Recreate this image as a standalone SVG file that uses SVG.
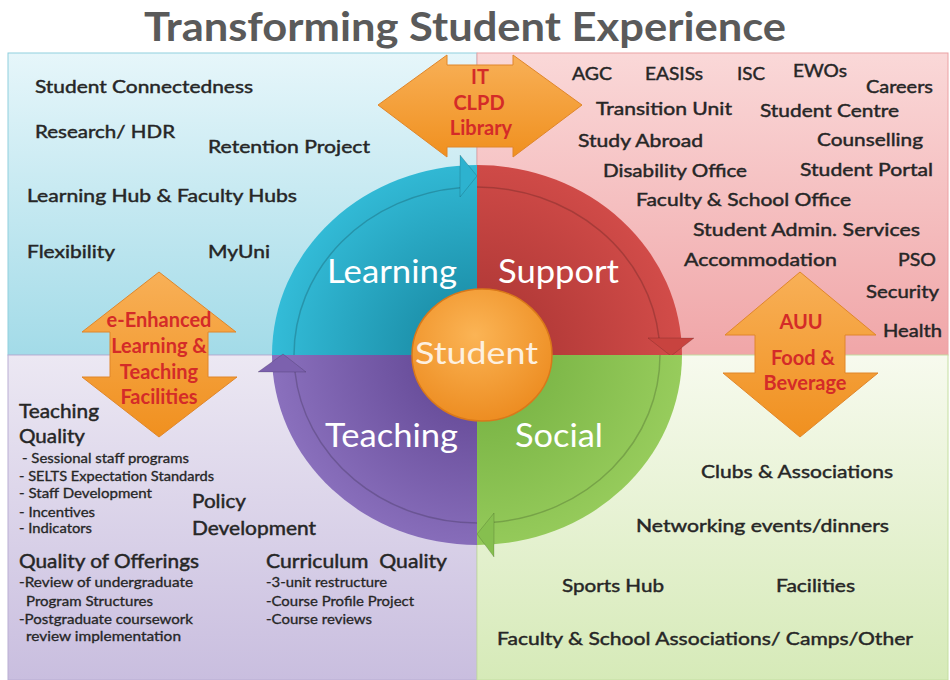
<svg xmlns="http://www.w3.org/2000/svg" width="950" height="680" viewBox="0 0 950 680">
<defs>
<linearGradient id="gBlueBg" x1="0" y1="0" x2="0" y2="1"><stop offset="0" stop-color="#e6f6fa"/><stop offset="1" stop-color="#a3dbe8"/></linearGradient>
<linearGradient id="gPinkBg" x1="0" y1="0" x2="0" y2="1"><stop offset="0" stop-color="#fad8d8"/><stop offset="1" stop-color="#f0a6a8"/></linearGradient>
<linearGradient id="gPurpBg" x1="0" y1="0" x2="0" y2="1"><stop offset="0" stop-color="#ece8f3"/><stop offset="1" stop-color="#c9bedf"/></linearGradient>
<linearGradient id="gGreenBg" x1="0" y1="0" x2="0" y2="1"><stop offset="0" stop-color="#f7faee"/><stop offset="1" stop-color="#d6eab8"/></linearGradient>
<radialGradient id="gBlue" cx="477" cy="355" r="205" gradientUnits="userSpaceOnUse"><stop offset="0.3" stop-color="#1e93ad"/><stop offset="1" stop-color="#33bcd8"/></radialGradient>
<radialGradient id="gRed" cx="477" cy="355" r="205" gradientUnits="userSpaceOnUse"><stop offset="0.3" stop-color="#b33a38"/><stop offset="1" stop-color="#d24c49"/></radialGradient>
<radialGradient id="gGreen" cx="477" cy="355" r="205" gradientUnits="userSpaceOnUse"><stop offset="0.3" stop-color="#7cb647"/><stop offset="1" stop-color="#97cc5c"/></radialGradient>
<radialGradient id="gPurple" cx="477" cy="355" r="205" gradientUnits="userSpaceOnUse"><stop offset="0.3" stop-color="#6a4f9c"/><stop offset="1" stop-color="#8a70bd"/></radialGradient>
<radialGradient id="gOrange" cx="0.45" cy="0.35" r="0.7"><stop offset="0" stop-color="#fbb455"/><stop offset="1" stop-color="#ec8a1e"/></radialGradient>
<linearGradient id="gArrow" x1="0" y1="0" x2="0" y2="1"><stop offset="0" stop-color="#f8b057"/><stop offset="1" stop-color="#f0901f"/></linearGradient>
<style>
text{font-family:Lato,"Liberation Sans",sans-serif}
.t{fill:#262626;stroke:#262626;stroke-width:0.45;font-size:18px}
.s{fill:#262626;stroke:#262626;stroke-width:0.3;font-size:13px}
.h{fill:#262626;stroke:#262626;stroke-width:0.45;font-size:19px}
.w{fill:#ffffff;font-size:32px}
.r{fill:#d42b28;font-size:20px;font-weight:bold;text-anchor:middle}
.arrow{fill:url(#gArrow);stroke:#e0862a;stroke-width:1}
.inner{fill:none;stroke:#000;stroke-opacity:0.18;stroke-width:1.5}
.head{stroke:#000;stroke-opacity:0.15;stroke-width:1}
</style>
</defs>

<g id="backgrounds">
<rect x="8" y="53" width="469" height="302" fill="url(#gBlueBg)" stroke="#8fd0de" stroke-width="1"/>
<rect x="477" y="53" width="471" height="302" fill="url(#gPinkBg)" stroke="#eaa2a4" stroke-width="1"/>
<rect x="8" y="355" width="469" height="325" fill="url(#gPurpBg)" stroke="#b9aed3" stroke-width="1"/>
<rect x="477" y="355" width="471" height="325" fill="url(#gGreenBg)" stroke="#c5dea2" stroke-width="1"/>
</g>

<g id="title">
<text x="465" y="41" text-anchor="middle" font-size="40" font-weight="bold" fill="#5a5a5a" textLength="642" lengthAdjust="spacingAndGlyphs">Transforming Student Experience</text>
</g>

<g id="learning">
<path d="M477,355 L272,355 A205,190 0 0 1 477,165 Z" fill="url(#gBlue)"/>
<polygon class="head" points="460,155 477,176 460,197" fill="#2db2cf"/>
<path class="inner" d="M294,355 A183,168 0 0 1 460,187.7"/>
<text class="w" x="327" y="283" textLength="130" lengthAdjust="spacingAndGlyphs">Learning</text>
</g>
<g id="support">
<path d="M477,355 L477,165 A205,190 0 0 1 682,355 Z" fill="url(#gRed)"/>
<polygon class="head" points="648,338 694,338 671,356" fill="#c8433f"/>
<path class="inner" d="M477,187 A183,168 0 0 1 659,338"/>
<text class="w" x="498" y="283" textLength="121" lengthAdjust="spacingAndGlyphs">Support</text>
</g>
<g id="social">
<path d="M477,355 L682,355 A205,190 0 0 1 477,545 Z" fill="url(#gGreen)"/>
<polygon class="head" points="494,513 477,534 494,557" fill="#86bf4f"/>
<path class="inner" d="M660,355 A183,168 0 0 1 494,522.3"/>
<text class="w" x="515" y="447" textLength="88" lengthAdjust="spacingAndGlyphs">Social</text>
</g>
<g id="teaching">
<path d="M477,355 L477,545 A205,190 0 0 1 272,355 Z" fill="url(#gPurple)"/>
<polygon class="head" points="258,372 306,372 283,354" fill="#7c61ae"/>
<path class="inner" d="M477,523 A183,168 0 0 1 295,372"/>
<text class="w" x="325" y="447" textLength="133" lengthAdjust="spacingAndGlyphs">Teaching</text>
</g>

<g id="student">
<ellipse cx="482" cy="355" rx="70" ry="66" fill="url(#gOrange)" stroke="#d9781a" stroke-width="1.5"/>
<text x="415" y="364" font-size="30" fill="#fdf0e0" textLength="123" lengthAdjust="spacingAndGlyphs">Student</text>
</g>

<g id="it-arrow">
<polygon class="arrow" points="378,105 447,55 447,65 513,65 513,55 582,105 513,157 513,147 447,147 447,157"/>
<text class="r" x="480" y="84">IT</text>
<text class="r" x="479" y="110">CLPD</text>
<text class="r" x="481" y="135">Library</text>
</g>

<g id="elt-arrow">
<polygon class="arrow" points="159,272 236,332 208,332 208,377 237,377 159,437 82,377 110,377 110,332 82,332"/>
<text class="r" x="159" y="327">e-Enhanced</text>
<text class="r" x="159" y="353">Learning &amp;</text>
<text class="r" x="159" y="379">Teaching</text>
<text class="r" x="159" y="404">Facilities</text>
</g>

<g id="auu-arrow">
<polygon class="arrow" points="800,272 876,335 845,335 845,373 878,373 800,437 723,373 755,373 755,335 725,335"/>
<text class="r" x="801" y="329">AUU</text>
<text class="r" x="803" y="365">Food &amp;</text>
<text class="r" x="805" y="390">Beverage</text>
</g>

<g id="learning-items">
<text class="t" x="35" y="93" textLength="218" lengthAdjust="spacingAndGlyphs">Student Connectedness</text>
<text class="t" x="35" y="138" textLength="140" lengthAdjust="spacingAndGlyphs">Research/ HDR</text>
<text class="t" x="208" y="153" textLength="162" lengthAdjust="spacingAndGlyphs">Retention Project</text>
<text class="t" x="27" y="202" textLength="270" lengthAdjust="spacingAndGlyphs">Learning Hub &amp; Faculty Hubs</text>
<text class="t" x="27" y="258" textLength="88" lengthAdjust="spacingAndGlyphs">Flexibility</text>
<text class="t" x="208" y="258" textLength="62" lengthAdjust="spacingAndGlyphs">MyUni</text>
</g>

<g id="support-items">
<text class="t" x="572" y="80" textLength="40" lengthAdjust="spacingAndGlyphs">AGC</text>
<text class="t" x="645" y="80" textLength="58" lengthAdjust="spacingAndGlyphs">EASISs</text>
<text class="t" x="737" y="80" textLength="28" lengthAdjust="spacingAndGlyphs">ISC</text>
<text class="t" x="793" y="77" textLength="54" lengthAdjust="spacingAndGlyphs">EWOs</text>
<text class="t" x="866" y="93" textLength="67" lengthAdjust="spacingAndGlyphs">Careers</text>
<text class="t" x="596" y="115" textLength="136" lengthAdjust="spacingAndGlyphs">Transition Unit</text>
<text class="t" x="760" y="117" textLength="139" lengthAdjust="spacingAndGlyphs">Student Centre</text>
<text class="t" x="578" y="147" textLength="125" lengthAdjust="spacingAndGlyphs">Study Abroad</text>
<text class="t" x="817" y="146" textLength="106" lengthAdjust="spacingAndGlyphs">Counselling</text>
<text class="t" x="603" y="177" textLength="144" lengthAdjust="spacingAndGlyphs">Disability Office</text>
<text class="t" x="800" y="176" textLength="133" lengthAdjust="spacingAndGlyphs">Student Portal</text>
<text class="t" x="636" y="206" textLength="215" lengthAdjust="spacingAndGlyphs">Faculty &amp; School Office</text>
<text class="t" x="693" y="236" textLength="227" lengthAdjust="spacingAndGlyphs">Student Admin. Services</text>
<text class="t" x="684" y="266" textLength="153" lengthAdjust="spacingAndGlyphs">Accommodation</text>
<text class="t" x="898" y="266" textLength="38" lengthAdjust="spacingAndGlyphs">PSO</text>
<text class="t" x="866" y="298" textLength="73" lengthAdjust="spacingAndGlyphs">Security</text>
<text class="t" x="883" y="337" textLength="59" lengthAdjust="spacingAndGlyphs">Health</text>
</g>

<g id="teaching-items">
<text class="h" x="19" y="418" textLength="80" lengthAdjust="spacingAndGlyphs">Teaching</text>
<text class="h" x="19" y="443" textLength="66" lengthAdjust="spacingAndGlyphs">Quality</text>
<text class="s" x="22" y="463" textLength="167" lengthAdjust="spacingAndGlyphs">- Sessional staff programs</text>
<text class="s" x="19" y="481" textLength="195" lengthAdjust="spacingAndGlyphs">- SELTS Expectation Standards</text>
<text class="s" x="19" y="498" textLength="133" lengthAdjust="spacingAndGlyphs">- Staff Development</text>
<text class="s" x="19" y="517" textLength="76" lengthAdjust="spacingAndGlyphs">- Incentives</text>
<text class="s" x="19" y="533" textLength="73" lengthAdjust="spacingAndGlyphs">- Indicators</text>
<text class="h" x="192" y="508" textLength="54" lengthAdjust="spacingAndGlyphs">Policy</text>
<text class="h" x="192" y="535" textLength="124" lengthAdjust="spacingAndGlyphs">Development</text>
<text class="h" x="19" y="568" textLength="180" lengthAdjust="spacingAndGlyphs">Quality of Offerings</text>
<text class="s" x="19" y="587" textLength="174" lengthAdjust="spacingAndGlyphs">-Review of undergraduate</text>
<text class="s" x="26" y="606" textLength="127" lengthAdjust="spacingAndGlyphs">Program Structures</text>
<text class="s" x="19" y="624" textLength="174" lengthAdjust="spacingAndGlyphs">-Postgraduate coursework</text>
<text class="s" x="26" y="641" textLength="155" lengthAdjust="spacingAndGlyphs">review implementation</text>
<text class="h" x="266" y="568" textLength="181" lengthAdjust="spacingAndGlyphs" xml:space="preserve">Curriculum  Quality</text>
<text class="s" x="266" y="587" textLength="121" lengthAdjust="spacingAndGlyphs">-3-unit restructure</text>
<text class="s" x="266" y="606" textLength="148" lengthAdjust="spacingAndGlyphs">-Course Profile Project</text>
<text class="s" x="266" y="624" textLength="106" lengthAdjust="spacingAndGlyphs">-Course reviews</text>
</g>

<g id="social-items">
<text class="t" x="701" y="478" textLength="192" lengthAdjust="spacingAndGlyphs">Clubs &amp; Associations</text>
<text class="t" x="636" y="532" textLength="253" lengthAdjust="spacingAndGlyphs">Networking events/dinners</text>
<text class="t" x="562" y="592" textLength="102" lengthAdjust="spacingAndGlyphs">Sports Hub</text>
<text class="t" x="776" y="592" textLength="79" lengthAdjust="spacingAndGlyphs">Facilities</text>
<text class="t" x="497" y="645" textLength="416" lengthAdjust="spacingAndGlyphs">Faculty &amp; School Associations/ Camps/Other</text>
</g>

<g id="connectors"></g>
</svg>
